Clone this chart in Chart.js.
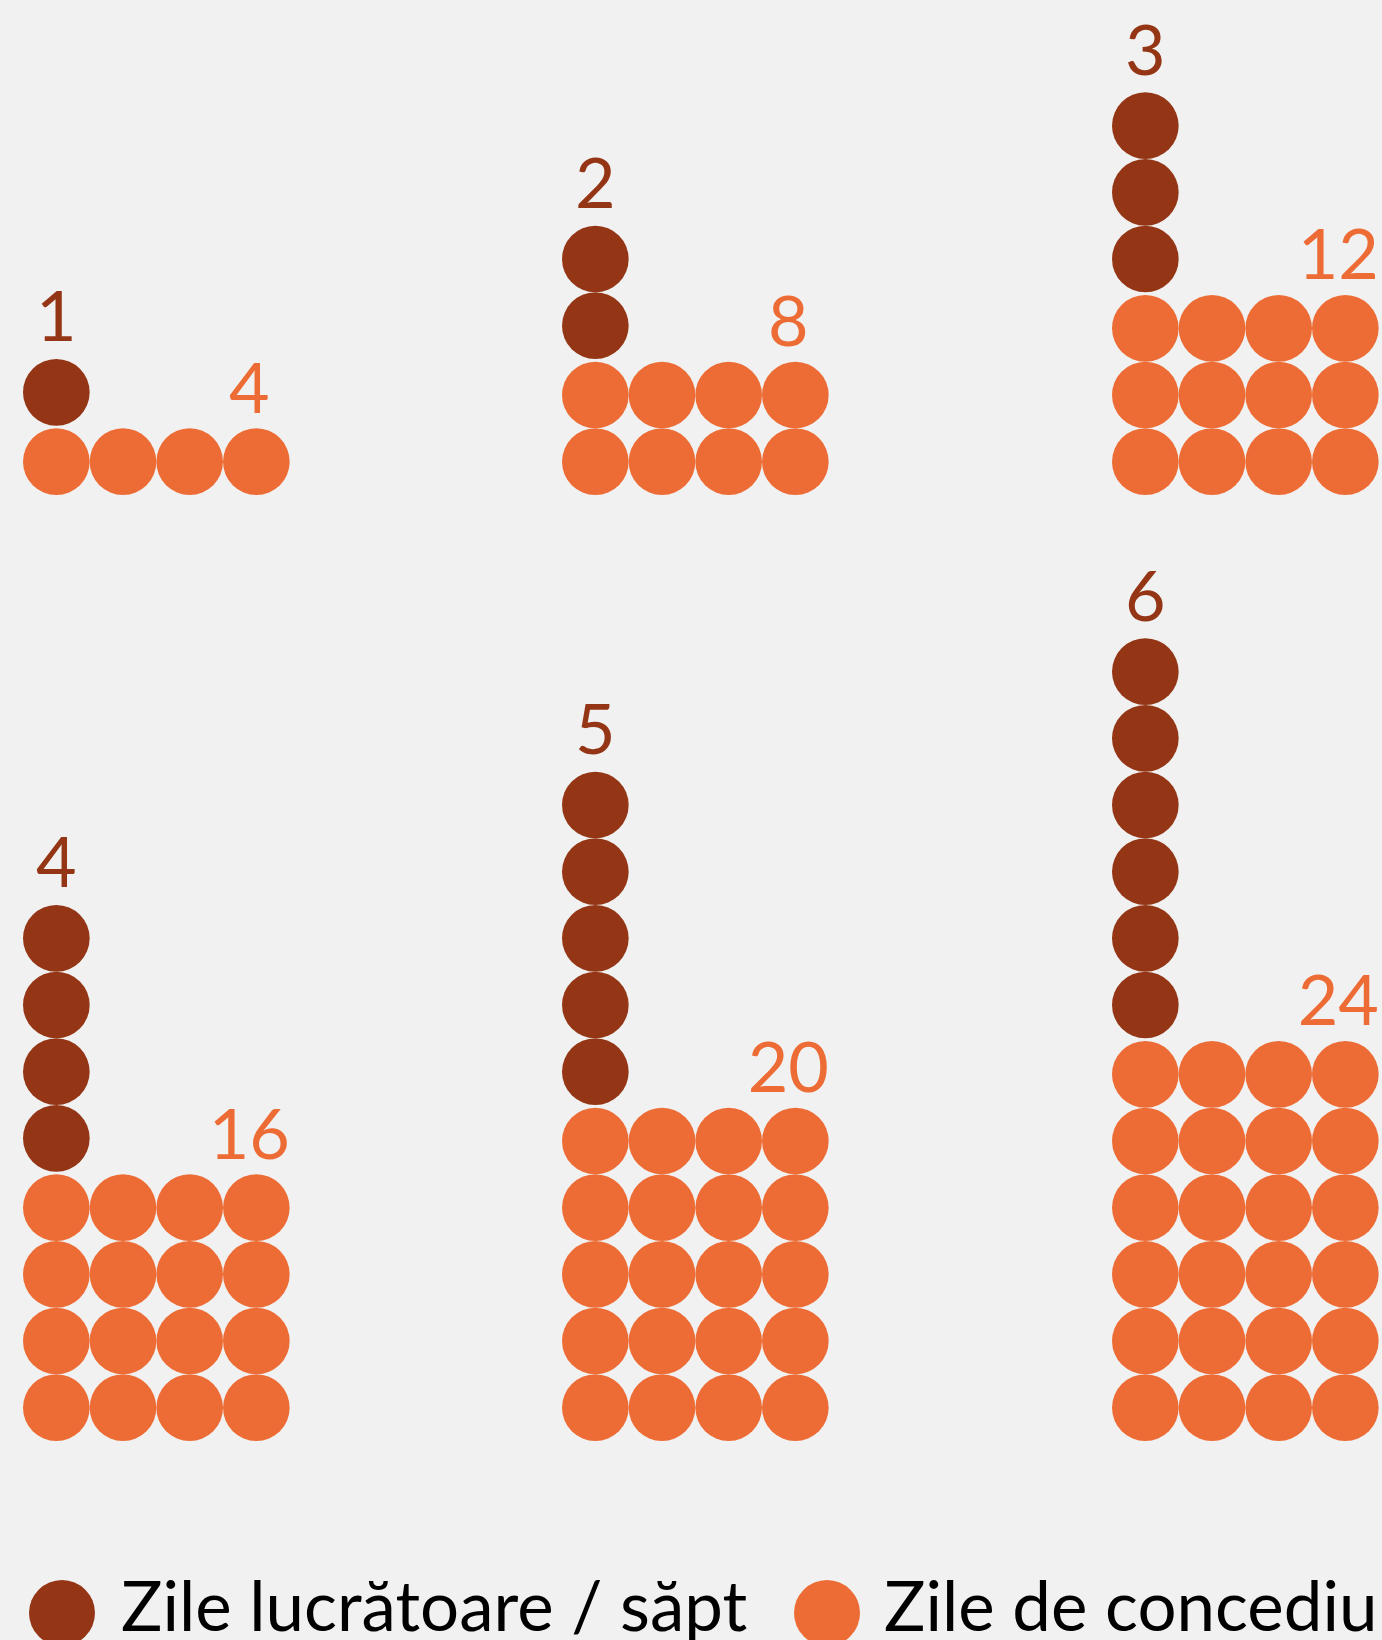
<!DOCTYPE html>
<html>
<head>
<meta charset="utf-8">
<script src="https://cdn.jsdelivr.net/npm/chart.js@4"></script>
<style>
  html, body { margin: 0; padding: 0; background: #f1f1f1; }
  body { width: 1382px; height: 1640px; position: relative; overflow: hidden; font-family: Lato, sans-serif; }
  .panel { position: absolute; }
  .legend { position: absolute; left: 0; top: 1560px; width: 1382px; height: 90px; }
  .legend .dot { position: absolute; width: 66px; height: 66px; border-radius: 50%; top: 20px; }
  .legend .txt { position: absolute; top: 0; font-size: 69px; line-height: 90px; color: #000; white-space: nowrap; }
</style>
</head>
<body>

<div class="legend" id="legend"></div>

<script>
// date: zile lucrătoare pe săptămână și zile de concediu
const workDays = [1, 2, 3, 4, 5, 6];
const leaveDays = [4, 8, 12, 16, 20, 24];
const seriesNames = ['Zile lucrătoare / săpt', 'Zile de concediu'];
const dotsPerRow = 4;

const brown = '#943615';
const orange = '#ed6c35';

// asezare: un diametru = 200/3 px
const U = 200 / 3;
const panelLefts = [23.33, 562.33, 1111.67];
const rowTops = [0, 541.33];
const rowHeights = [495, 900];
const brownGap = 0.04;

function makePanel(idx) {
  const w = workDays[idx];
  const v = leaveDays[idx];
  const row = Math.floor(idx / 3);
  const col = idx % 3;

  const canvas = document.createElement('canvas');
  canvas.className = 'panel';
  canvas.width = 300;
  canvas.height = rowHeights[row];
  canvas.style.left = panelLefts[col] + 'px';
  canvas.style.top = rowTops[row] + 'px';
  document.body.appendChild(canvas);

  const orangePts = [];
  for (let i = 0; i < v; i++) {
    orangePts.push({ x: i % dotsPerRow, y: Math.floor(i / dotsPerRow) });
  }
  const orangeRows = Math.ceil(v / dotsPerRow);
  const brownPts = [];
  for (let i = 0; i < w; i++) {
    brownPts.push({ x: 0, y: orangeRows + brownGap + i });
  }

  const labelPlugin = {
    id: 'labels',
    afterDatasetsDraw(chart) {
      const ctx = chart.ctx;
      const xs = chart.scales.x, ys = chart.scales.y;
      ctx.save();
      ctx.font = '70px Lato';
      ctx.textAlign = 'center';
      ctx.textBaseline = 'alphabetic';
      ctx.fillStyle = brown;
      ctx.fillText(String(w), xs.getPixelForValue(0), ys.getPixelForValue(orangeRows + brownGap + w - 1) - 51);
      ctx.fillStyle = orange;
      ctx.fillText(String(v), xs.getPixelForValue(dotsPerRow - 1) - 7, ys.getPixelForValue(orangeRows - 1) - 49);
      ctx.restore();
    }
  };

  new Chart(canvas.getContext('2d'), {
    type: 'scatter',
    data: {
      datasets: [
        {
          label: seriesNames[1],
          data: orangePts,
          backgroundColor: orange,
          borderWidth: 0,
          pointRadius: U / 2,
          pointHoverRadius: U / 2,
          clip: false
        },
        {
          label: seriesNames[0],
          data: brownPts,
          backgroundColor: brown,
          borderWidth: 0,
          pointRadius: U / 2,
          pointHoverRadius: U / 2,
          clip: false
        }
      ]
    },
    options: {
      responsive: false,
      animation: false,
      events: [],
      layout: { padding: 0, autoPadding: false },
      scales: {
        x: { type: 'linear', display: false, min: -0.5, max: -0.5 + 300 / U },
        y: { type: 'linear', display: false, min: -0.5, max: -0.5 + rowHeights[row] / U }
      },
      plugins: {
        legend: { display: false },
        tooltip: { enabled: false }
      }
    },
    plugins: [labelPlugin]
  });
}

for (let i = 0; i < workDays.length; i++) {
  makePanel(i);
}

// legenda
const legend = document.getElementById('legend');
const legendItems = [
  { name: seriesNames[0], color: brown, dot: 29, text: 121 },
  { name: seriesNames[1], color: orange, dot: 794, text: 884 }
];
legendItems.forEach(item => {
  const d = document.createElement('div');
  d.className = 'dot';
  d.style.left = item.dot + 'px';
  d.style.background = item.color;
  legend.appendChild(d);
  const t = document.createElement('div');
  t.className = 'txt';
  t.style.left = item.text + 'px';
  t.textContent = item.name;
  legend.appendChild(t);
});
</script>
</body>
</html>
